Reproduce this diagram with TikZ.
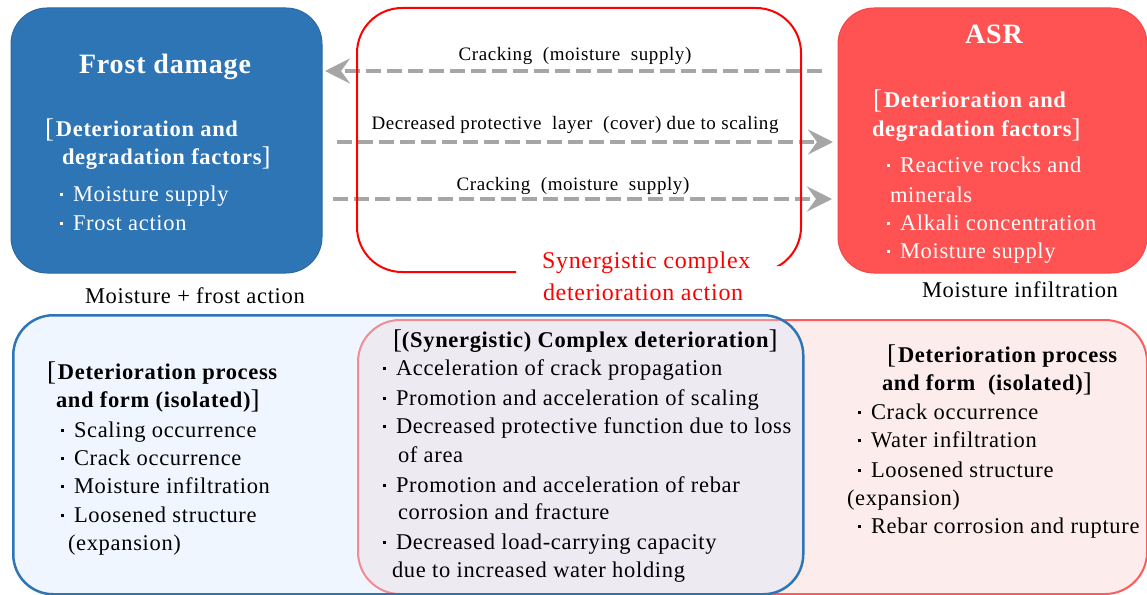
\documentclass[tikz,border=0pt]{standalone}
\usepackage{fontspec}
\setmainfont{Liberation Serif}[LetterSpace=3]
\usetikzlibrary{arrows.meta}

\definecolor{frostblue}{HTML}{2E75B6}
\definecolor{frostedge}{HTML}{2C69A3}
\definecolor{asrred}{HTML}{FF5252}
\definecolor{asredge}{HTML}{F04A4A}
\definecolor{arrowgray}{HTML}{A6A6A6}
\definecolor{synred}{HTML}{FF0000}
\definecolor{palepink}{HTML}{FDECEC}
\definecolor{pinkedge}{HTML}{FF5B5B}
\definecolor{paleblue}{RGB}{212,232,255}

% small square bullet followed by a gap
\newcommand\bul{\makebox[14pt][l]{\hspace{1pt}\rule[5pt]{3.4pt}{3.4pt}}}
% tall light brackets around bold headings
\newcommand\bigbr[1]{\raisebox{-1.5pt}{\mdseries\fontsize{27}{27}\selectfont #1}}
\newcommand\lbr{\bigbr{[}\kern2pt}
\newcommand\rbr{\bigbr{]}}

\begin{document}
\begin{tikzpicture}[x=1pt,y=-1pt,
  ln/.style={anchor=base west, inner sep=0pt, outer sep=0pt},
  body/.style={ln, font=\fontsize{22.5}{26}\selectfont},
  head/.style={ln, font=\fontsize{22.5}{26}\selectfont\bfseries},
  wbody/.style={body, text=white},
  whead/.style={head, text=white},
  title/.style={anchor=base, inner sep=0pt, font=\fontsize{28}{32}\selectfont\bfseries, text=white},
  flowlabel/.style={anchor=base, inner sep=0pt, font=\fontsize{19}{23}\selectfont},
  redlabel/.style={ln, text=synred, font=\fontsize{24}{28}\selectfont},
  topbox/.style={line width=1pt, rounded corners=36pt, anchor=north west, inner sep=0pt},
  flow/.style={draw=arrowgray, line width=4pt, dash pattern=on 15pt off 6pt,
    -{Stealth[length=25pt,width=25pt,inset=9pt]}},
]
\useasboundingbox (0,0) rectangle (1147,594);
\fill[white] (0,0) rectangle (1147,594);

% ---------- bottom: isolated / complex deterioration panels ----------
\node[draw=pinkedge, line width=2pt, fill=palepink, rounded corners=42pt,
  minimum width=789pt, minimum height=274pt, anchor=north west, inner sep=0pt]
  (isoasr) at (357,319) {};
\node[draw=frostblue, line width=2.5pt, fill=paleblue, fill opacity=0.35, draw opacity=1,
  rounded corners=40pt, minimum width=790pt, minimum height=279pt,
  anchor=north west, inner sep=0pt] (isofrost) at (12,314) {};

% ---------- top: the two mechanisms ----------
\node[topbox, draw=frostedge, fill=frostblue, minimum width=311pt, minimum height=265pt]
  (frost) at (10.5,7.5) {};
\node[topbox, draw=asredge, fill=asrred, minimum width=309pt, minimum height=265pt]
  (asr) at (837.5,7.5) {};

% ---------- interaction arrows ----------
\coordinate (f1s) at (822,71);  \coordinate (f1e) at (325,71);
\coordinate (f2s) at (337,142); \coordinate (f2e) at (833,142);
\coordinate (f3s) at (333,199); \coordinate (f3e) at (832,199);
\draw[flow] (f1s) -- (f1e);
\draw[flow] (f2s) -- (f2e);
\draw[flow] (f3s) -- (f3e);

\node[flowlabel] (l1) at (575,60) {Cracking\ \ (moisture\ \ supply)};
\node[flowlabel] (l2) at (575,129) {Decreased protective\ \ layer\ \ (cover) due to scaling};
\node[flowlabel] (l3) at (573,190) {Cracking\ \ (moisture\ \ supply)};

% ---------- synergistic action frame, open at the lower right ----------
\begin{scope}
  \clip (0,0) rectangle (1147,266) (0,266) rectangle (516,300);
  \draw[synred, line width=2pt, rounded corners=45pt] (357,8) rectangle (801,272);
\end{scope}
\node[redlabel] (syn1) at (542,268) {Synergistic\ complex};
\node[redlabel] (syn2) at (543,300) {deterioration action};

% ---------- frost damage text ----------
\node[title] (frtitle) at (165,73) {Frost damage};
\node[whead] (frh1) at (45,136) {\lbr Deterioration and};
\node[whead] (frh2) at (62,164) {degradation factors\rbr};
\node[wbody] (frb1) at (59,201) {\bul Moisture supply};
\node[wbody] (frb2) at (59,230) {\bul Frost action};
\node[body] (frcause) at (85,303) {Moisture\ + frost action};

% ---------- ASR text ----------
\node[title] (asrtitle) at (994,44) {ASR};
\node[whead] (asrh1) at (873,107) {\lbr Deterioration and};
\node[whead] (asrh2) at (872,136) {degradation factors\rbr};
\node[wbody] (asrb1) at (886,172) {\bul Reactive rocks and};
\node[wbody] (asrb1b) at (890,202) {minerals};
\node[wbody] (asrb2) at (886,230) {\bul Alkali\ concentration};
\node[wbody] (asrb3) at (886,258) {\bul Moisture supply};
\node[body] (asrcause) at (922,297) {Moisture infiltration};

% ---------- isolated frost deterioration ----------
\node[head] (ifh1) at (47,379) {\lbr Deterioration process};
\node[head] (ifh2) at (56,407) {and form (isolated)\rbr};
\node[body] (ifb1) at (60,437) {\bul Scaling\ occurrence};
\node[body] (ifb2) at (60,465) {\bul Crack occurrence};
\node[body] (ifb3) at (60,493) {\bul Moisture infiltration};
\node[body] (ifb4) at (60,522) {\bul Loosened structure};
\node[body] (ifb4b) at (68,550) {(expansion)};

% ---------- complex deterioration ----------
\node[head] (cxh) at (393,347) {\bigbr{[}(Synergistic) Complex deterioration\rbr};
\node[body] (cxb1) at (382,375) {\bul Acceleration\ of crack propagation};
\node[body] (cxb2) at (382,405) {\bul Promotion and acceleration\ of scaling};
\node[body] (cxb3) at (382,433) {\bul Decreased protective function due to loss};
\node[body] (cxb3b) at (398,462) {of area};
\node[body] (cxb4) at (382,492) {\bul Promotion and acceleration\ of rebar};
\node[body] (cxb4b) at (398,519) {corrosion\ and fracture};
\node[body] (cxb5) at (382,549) {\bul Decreased load-carrying\ capacity};
\node[body] (cxb5b) at (392,577) {due to increased water holding};

% ---------- isolated ASR deterioration ----------
\node[head] (iah1) at (887,362) {\lbr Deterioration process};
\node[head] (iah2) at (882,390) {and form\ \ (isolated)\rbr};
\node[body] (iab1) at (857,419) {\bul Crack occurrence};
\node[body] (iab2) at (857,447) {\bul Water infiltration};
\node[body] (iab3) at (857,477) {\bul Loosened structure};
\node[body] (iab3b) at (847,505) {(expansion)};
\node[body] (iab4) at (857,533) {\bul Rebar corrosion and rupture};
\end{tikzpicture}
\end{document}
